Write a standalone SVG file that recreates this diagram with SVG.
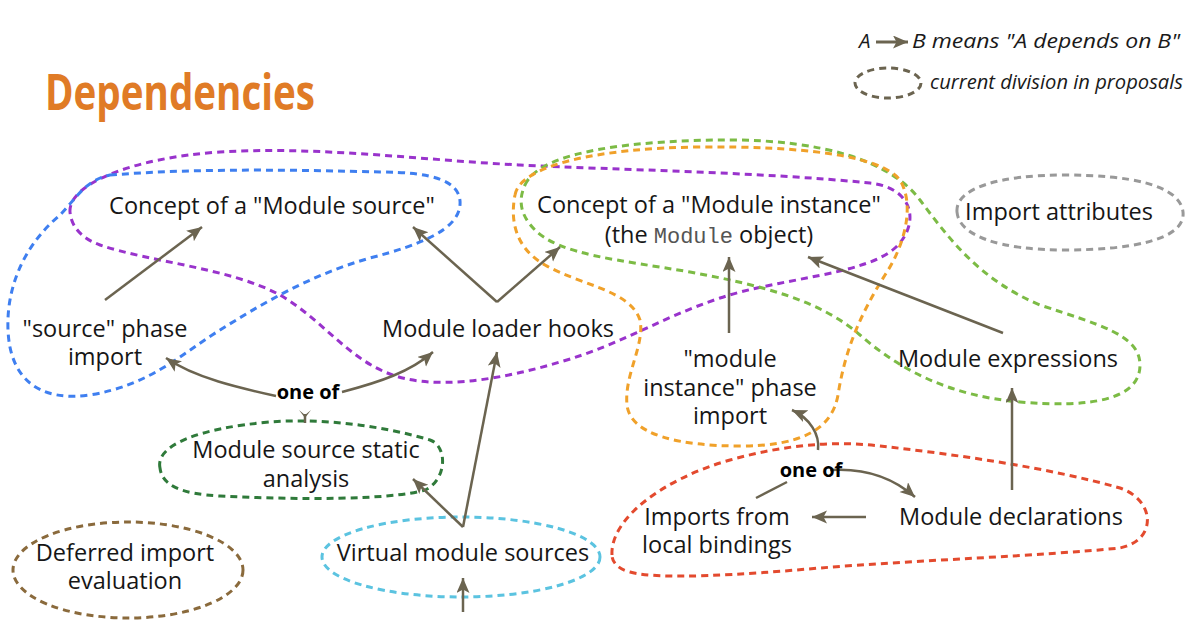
<svg xmlns="http://www.w3.org/2000/svg" width="1200" height="629" viewBox="0 0 1200 629">
<style>
.lbl{font-family:"Open Sans","Noto Sans","DejaVu Sans",sans-serif;font-size:23.5px;fill:#161616;text-anchor:middle}
.oneof{font-family:"Open Sans","Noto Sans",sans-serif;font-size:20px;font-weight:700;fill:#000;text-anchor:middle}
.leg{font-family:"Open Sans","Noto Sans",sans-serif;font-size:20.5px;font-style:italic;fill:#1a1a1a}
.mono{font-family:"Liberation Mono","DejaVu Sans Mono",monospace;fill:#555;font-size:22px}
.grp{fill:none;stroke-width:3;stroke-dasharray:7 5}
.arr{fill:none;stroke:#6b6450;stroke-width:2.5}
</style>
<defs>
<marker id="ah" markerUnits="userSpaceOnUse" markerWidth="16" markerHeight="14" refX="15" refY="6.5" orient="auto">
<path d="M0,0 L15,6.5 L0,13 L3.5,6.5 Z" fill="#6b6450"/>
</marker>
<linearGradient id="fL" gradientUnits="userSpaceOnUse" x1="276" y1="396" x2="245" y2="388"><stop offset="0" stop-color="#6b6450" stop-opacity="0"/><stop offset="1" stop-color="#6b6450"/></linearGradient>
<linearGradient id="fR" gradientUnits="userSpaceOnUse" x1="342" y1="392" x2="372" y2="384"><stop offset="0" stop-color="#6b6450" stop-opacity="0"/><stop offset="1" stop-color="#6b6450"/></linearGradient>
<linearGradient id="fB" gradientUnits="userSpaceOnUse" x1="787" y1="482" x2="765" y2="494"><stop offset="0" stop-color="#6b6450" stop-opacity="0"/><stop offset="1" stop-color="#6b6450"/></linearGradient>
<linearGradient id="fC" gradientUnits="userSpaceOnUse" x1="830" y1="470" x2="858" y2="470"><stop offset="0" stop-color="#6b6450" stop-opacity="0"/><stop offset="1" stop-color="#6b6450"/></linearGradient>
</defs>
<rect width="1200" height="629" fill="#fff"/>

<text x="45" y="110" font-family="'Open Sans','Noto Sans',sans-serif" font-size="50" font-weight="700" fill="#e07b26" textLength="270" lengthAdjust="spacingAndGlyphs">Dependencies</text>

<g id="legend">
<text class="leg" x="859" y="48">A</text>
<line x1="876" y1="42" x2="908" y2="42" stroke="#6b6450" stroke-width="3" marker-end="url(#ah)"/>
<text class="leg" x="912" y="48" textLength="268" lengthAdjust="spacingAndGlyphs">B means "A depends on B"</text>
<ellipse cx="888" cy="83" rx="33" ry="15" class="grp" stroke="#6b6450" stroke-dasharray="8 6"/>
<text class="leg" x="930" y="89" textLength="253" lengthAdjust="spacingAndGlyphs">current division in proposals</text>
</g>

<g id="groups">
<path class="grp" stroke="#9933cc" d="M70,212 C68,185 130,158 220,152 C320,146 420,160 520,165 C620,170 760,172 870,183 C915,188 920,225 895,248 C865,275 780,278 720,298 C660,318 620,345 560,362 C500,380 430,392 385,372 C345,355 320,318 280,295 C230,268 150,262 100,245 C80,238 71,225 70,212 Z"/>
<path class="grp" stroke="#3f7ff0" d="M110,175 C200,168 300,170 380,172 C430,172 462,180 460,205 C458,230 420,245 370,258 C310,275 260,305 220,330 C180,355 150,385 90,395 C40,402 10,380 8,330 C6,280 30,240 60,215 C75,200 85,180 110,175 Z"/>
<path class="grp" stroke="#7cbb45" d="M525,185 C540,150 640,140 730,140 C820,140 890,160 920,200 C950,240 980,280 1040,305 C1100,325 1140,335 1140,365 C1140,400 1090,408 1020,402 C950,396 900,370 860,335 C820,300 760,285 690,272 C620,260 560,255 535,230 C520,215 518,200 525,185 Z"/>
<path class="grp" stroke="#f0a12a" d="M515,195 C520,165 600,148 700,147 C800,146 880,155 900,180 C915,205 905,245 885,275 C860,315 845,350 838,395 C832,430 800,446 740,446 C680,446 630,435 627,405 C624,375 645,345 640,320 C630,290 580,285 545,265 C515,248 510,220 515,195 Z"/>
<path class="grp" stroke="#999" d="M957,212 C955,188 1000,175 1065,175 C1130,175 1180,185 1183,212 C1186,240 1130,250 1065,250 C1000,250 959,236 957,212 Z"/>
<path class="grp" stroke="#2f7a3a" d="M160,468 C155,445 200,428 270,422 C320,418 380,425 430,440 C448,446 447,480 425,490 C390,500 300,500 220,496 C180,494 162,485 160,468 Z"/>
<ellipse class="grp" stroke="#8a6a3c" cx="128" cy="570" rx="115" ry="48"/>
<ellipse class="grp" stroke="#5bc3e0" cx="461" cy="557" rx="139" ry="40"/>
<path class="grp" stroke="#e34a2e" d="M612,555 C610,520 660,480 730,460 C780,446 830,440 880,446 C960,455 1050,468 1120,488 C1155,500 1158,540 1120,548 C1040,556 920,560 820,568 C740,575 660,580 630,572 C618,569 612,562 612,555 Z"/>
</g>

<g id="connectors">
<line class="arr" x1="105" y1="300" x2="202" y2="227" marker-end="url(#ah)"/>
<line class="arr" x1="497" y1="302" x2="413" y2="227" marker-end="url(#ah)"/>
<line class="arr" x1="497" y1="302" x2="560" y2="247" marker-end="url(#ah)"/>
<line class="arr" x1="729" y1="333" x2="729" y2="257" marker-end="url(#ah)"/>
<line class="arr" x1="1003" y1="333" x2="808" y2="257" marker-end="url(#ah)"/>
<path class="arr" stroke="url(#fL)" d="M276,396 C240,388 195,378 166,358" marker-end="url(#ah)"/>
<path class="arr" stroke="url(#fR)" d="M342,392 C380,382 410,372 433,352" marker-end="url(#ah)"/>
<path d="M299,410 L305,415 L311,410 L305,418 Z" fill="#6b6450"/>
<line class="arr" x1="305" y1="414" x2="305" y2="423"/>
<line class="arr" x1="463" y1="527" x2="413" y2="479" marker-end="url(#ah)"/>
<line class="arr" x1="463" y1="527" x2="497" y2="352" marker-end="url(#ah)"/>
<line class="arr" x1="463" y1="612" x2="463" y2="578" marker-end="url(#ah)"/>
<line class="arr" x1="1012" y1="490" x2="1012" y2="388" marker-end="url(#ah)"/>
<line class="arr" x1="866" y1="517" x2="812" y2="517" marker-end="url(#ah)"/>
<path class="arr" stroke="url(#fB)" d="M787,482 L756,498"/>
<path class="arr" stroke="url(#fC)" d="M830,470 C860,468 890,475 915,497" marker-end="url(#ah)"/>
<path class="arr" d="M818,450 C820,435 810,418 792,410" marker-end="url(#ah)"/>
</g>

<g id="n-concept-source"><text class="lbl" x="272" y="214">Concept of a "Module source"</text></g>
<g id="n-concept-instance"><text class="lbl" x="709" y="213">Concept of a "Module instance"</text>
<text class="lbl" x="709" y="243">(the <tspan class="mono">Module</tspan> object)</text></g>
<g id="n-import-attributes"><text class="lbl" x="1059" y="220">Import attributes</text></g>
<g id="n-source-phase"><text class="lbl" x="105" y="337">"source" phase</text><text class="lbl" x="105" y="365">import</text></g>
<g id="n-loader-hooks"><text class="lbl" x="498" y="337">Module loader hooks</text></g>
<g id="n-instance-phase"><text class="lbl" x="730" y="367">"module</text><text class="lbl" x="730" y="396">instance" phase</text><text class="lbl" x="730" y="424">import</text></g>
<g id="n-module-expressions"><text class="lbl" x="1008" y="367">Module expressions</text></g>
<g id="n-oneof-1"><text class="oneof" x="308" y="399">one of</text></g>
<g id="n-static-analysis"><text class="lbl" x="306" y="458">Module source static</text><text class="lbl" x="306" y="487">analysis</text></g>
<g id="n-oneof-2"><text class="oneof" x="811" y="477">one of</text></g>
<g id="n-imports-local"><text class="lbl" x="717" y="525">Imports from</text><text class="lbl" x="717" y="553">local bindings</text></g>
<g id="n-module-declarations"><text class="lbl" x="1011" y="525">Module declarations</text></g>
<g id="n-deferred"><text class="lbl" x="125" y="561">Deferred import</text><text class="lbl" x="125" y="589">evaluation</text></g>
<g id="n-virtual"><text class="lbl" x="463" y="561">Virtual module sources</text></g>
</svg>
